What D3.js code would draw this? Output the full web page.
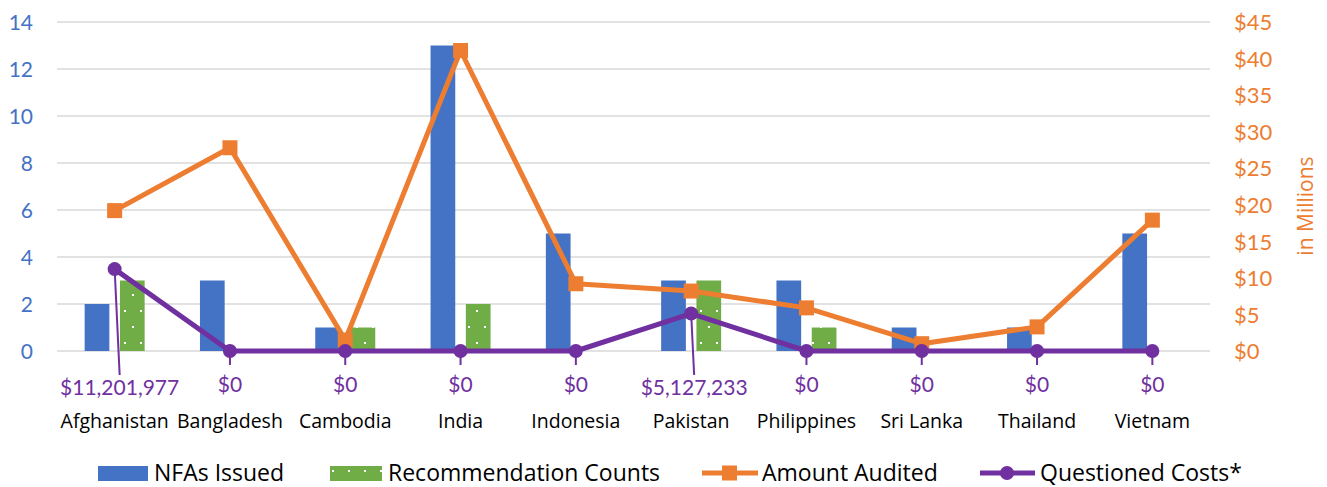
<!DOCTYPE html>
<html><head><meta charset="utf-8">
<script src="https://cdn.jsdelivr.net/npm/d3@7"></script>
<style>
body{margin:0;background:#fff}
svg{display:block}
text{font-family:Lato,"Open Sans",sans-serif}
text.w{font-family:"Open Sans",Lato,sans-serif}
</style>
</head><body>
<svg id="c" width="1327" height="487"></svg>
<script>
const categories=["Afghanistan","Bangladesh","Cambodia","India","Indonesia","Pakistan","Philippines","Sri Lanka","Thailand","Vietnam"];
const nfasIssued=[2,3,1,13,5,3,3,1,1,5];
const recommendationCounts=[3,0,1,2,0,3,1,0,0,0];
const amountAudited=[19.2,27.8,1.5,41.1,9.2,8.2,5.9,1.0,3.3,17.9];   // $ millions
const questionedCosts=[11201977,0,0,0,0,5127233,0,0,0,0];          // $
const leftTicks=[0,2,4,6,8,10,12,14];
const rightTicks=[0,5,10,15,20,25,30,35,40,45];
const seriesNames=["NFAs Issued","Recommendation Counts","Amount Audited","Questioned Costs*"];

const BLUE="#4472C4",GREEN="#70AD47",ORANGE="#ED7D31",PURPLE="#7030A0",GRID="#D9D9D9";
const svg=d3.select("#c");
const L=57,R=1210,T=22,B=351;

const x=d3.scaleBand().domain(categories).range([L,R]).padding(0);
const sub=d3.scaleBand().domain(["nfa","rec"]).range([-30,30]).paddingInner(0.3);
const yL=d3.scaleLinear().domain([0,14]).range([B,T]);
const yR=d3.scaleLinear().domain([0,45]).range([B,T]);
const cx=c=>x(c)+x.bandwidth()/2;

// pattern
const defs=svg.append("defs");
const pat=defs.append("pattern").attr("id","dots").attr("patternUnits","userSpaceOnUse")
  .attr("width",16).attr("height",32).attr("x",2).attr("y",4);
pat.append("rect").attr("width",16).attr("height",32).attr("fill",GREEN);
pat.append("rect").attr("x",2).attr("y",2).attr("width",2).attr("height",2).attr("fill","#fff");
pat.append("rect").attr("x",10).attr("y",18).attr("width",2).attr("height",2).attr("fill","#fff");

// gridlines
svg.append("g").selectAll("line").data(leftTicks).join("line")
  .attr("x1",L).attr("x2",R).attr("y1",d=>yL(d)).attr("y2",d=>yL(d))
  .attr("stroke",GRID).attr("stroke-width",1.5);

// left axis
const axL=d3.axisLeft(yL).tickValues(leftTicks).tickSize(0).tickPadding(0);
const gL=svg.append("g").attr("transform","translate(33,0)").call(axL);
gL.select(".domain").remove();
gL.selectAll("text").attr("fill",BLUE).attr("font-size",21).attr("dy","0.35em");

// right axis
const axR=d3.axisRight(yR).tickValues(rightTicks).tickSize(0).tickPadding(0).tickFormat(d=>"$"+d);
const gR=svg.append("g").attr("transform","translate(1234,0)").call(axR);
gR.select(".domain").remove();
gR.selectAll("text").attr("fill",ORANGE).attr("font-size",22).attr("dy","0.35em");

svg.append("text").attr("class","w").attr("transform","translate(1313,206) rotate(-90)")
  .attr("text-anchor","middle").attr("fill",ORANGE).attr("font-size",21).text("in Millions");

// bars
const rows=categories.map((c,i)=>({c,nfa:nfasIssued[i],rec:recommendationCounts[i],amt:amountAudited[i],q:questionedCosts[i]}));
svg.append("g").selectAll("rect").data(rows.filter(d=>d.nfa>0)).join("rect")
  .attr("x",d=>cx(d.c)+sub("nfa")).attr("width",sub.bandwidth())
  .attr("y",d=>yL(d.nfa)).attr("height",d=>yL(0)-yL(d.nfa)).attr("fill",BLUE);
svg.append("g").selectAll("rect").data(rows.filter(d=>d.rec>0)).join("rect")
  .attr("x",d=>cx(d.c)+sub("rec")).attr("width",sub.bandwidth())
  .attr("y",d=>yL(d.rec)).attr("height",d=>yL(0)-yL(d.rec)).attr("fill","url(#dots)");

// category labels
svg.append("g").selectAll("text").data(categories).join("text").attr("class","w")
  .attr("x",d=>cx(d)).attr("y",428).attr("text-anchor","middle")
  .attr("font-size",19.5).attr("fill","#000").text(d=>d);

// amount audited line
const lineA=d3.line().x(d=>cx(d.c)).y(d=>yR(d.amt));
svg.append("path").datum(rows).attr("d",lineA).attr("fill","none")
  .attr("stroke",ORANGE).attr("stroke-width",5).attr("stroke-linejoin","round");
svg.append("g").selectAll("rect").data(rows).join("rect")
  .attr("x",d=>cx(d.c)-7.5).attr("y",d=>yR(d.amt)-7.5).attr("width",15).attr("height",15)
  .attr("fill",ORANGE);

// questioned costs leaders + labels
const fmt=d3.format("$,");
const labelDx=c=>c==="Afghanistan"?5:(c==="Pakistan"?3:0);
svg.append("g").selectAll("line").data(rows).join("line")
  .attr("x1",d=>cx(d.c)).attr("y1",d=>yR(d.q/1e6))
  .attr("x2",d=>cx(d.c)+labelDx(d.c)).attr("y2",d=>d.q>0?375:365)
  .attr("stroke",PURPLE).attr("stroke-width",2);
const lineQ=d3.line().x(d=>cx(d.c)).y(d=>yR(d.q/1e6));
svg.append("path").datum(rows).attr("d",lineQ).attr("fill","none")
  .attr("stroke",PURPLE).attr("stroke-width",5).attr("stroke-linejoin","round");
svg.append("g").selectAll("circle").data(rows).join("circle")
  .attr("cx",d=>cx(d.c)).attr("cy",d=>yR(d.q/1e6)).attr("r",7).attr("fill",PURPLE);
svg.append("g").selectAll("text").data(rows).join("text")
  .attr("x",d=>cx(d.c)+labelDx(d.c)).attr("y",d=>d.q>0?395:392).attr("text-anchor","middle")
  .attr("font-size",21).attr("fill",PURPLE).text(d=>fmt(d.q));

// legend
const lg=svg.append("g");
const legY=473;
lg.append("rect").attr("x",98).attr("y",legY-7).attr("width",50).attr("height",15).attr("fill",BLUE);
lg.append("text").attr("class","w").attr("x",154).attr("y",legY+8).attr("font-size",23).text(seriesNames[0]);
lg.append("rect").attr("x",330).attr("y",legY-7).attr("width",52).attr("height",15).attr("fill","url(#dots)");
lg.append("text").attr("class","w").attr("x",388).attr("y",legY+8).attr("font-size",23).text(seriesNames[1]);
lg.append("line").attr("x1",702).attr("x2",758).attr("y1",legY).attr("y2",legY).attr("stroke",ORANGE).attr("stroke-width",5);
lg.append("rect").attr("x",722).attr("y",legY-7.5).attr("width",15).attr("height",15).attr("fill",ORANGE);
lg.append("text").attr("class","w").attr("x",762).attr("y",legY+8).attr("font-size",23).text(seriesNames[2]);
lg.append("line").attr("x1",980).attr("x2",1035).attr("y1",legY).attr("y2",legY).attr("stroke",PURPLE).attr("stroke-width",5);
lg.append("circle").attr("cx",1007).attr("cy",legY).attr("r",7).attr("fill",PURPLE);
lg.append("text").attr("class","w").attr("x",1040).attr("y",legY+8).attr("font-size",23).text(seriesNames[3]);
</script>
</body></html>
